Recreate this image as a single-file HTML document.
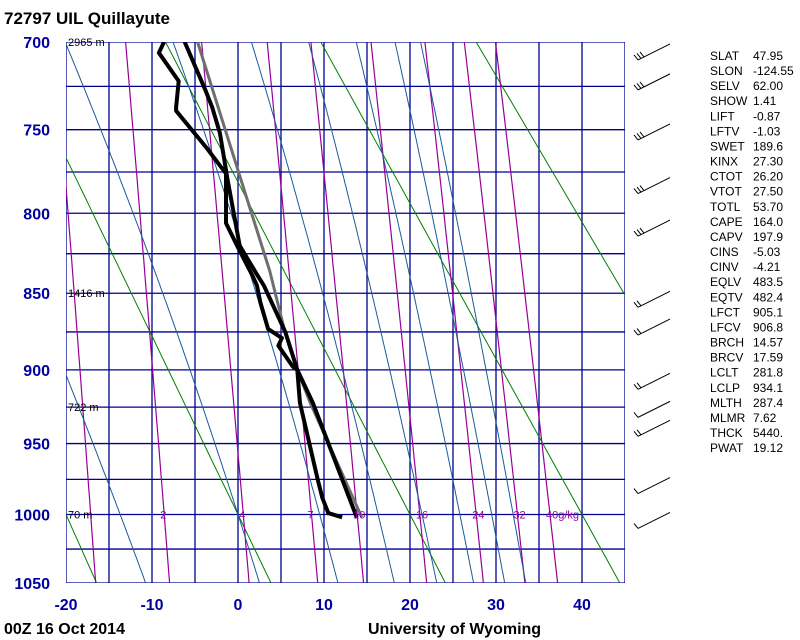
<!DOCTYPE html>
<html><head><meta charset="utf-8"><style>
html,body{margin:0;padding:0;background:#fff;}
svg{display:block;font-family:"Liberation Sans",sans-serif;}
</style></head><body>
<svg id="chart" width="800" height="640" viewBox="0 0 800 640">
<defs><clipPath id="plotclip"><rect x="66" y="42" width="559" height="541"/></clipPath></defs>
<rect width="800" height="640" fill="#fff"/>
<g id="grid" clip-path="url(#plotclip)"></g>
<g id="lines" clip-path="url(#plotclip)"></g>
<g id="sounding" clip-path="url(#plotclip)"></g>
<g id="labels"></g>
<g id="barbs"></g>
<g id="stats"></g>
<text x="4" y="24" font-size="17" font-weight="bold">72797 UIL Quillayute</text>
<text x="4" y="634" font-size="16" font-weight="bold">00Z 16 Oct 2014</text>
<text x="368" y="634" font-size="16" font-weight="bold">University of Wyoming</text>
</svg>
<script>
// ---- data ----
const pressureTicks = [700,750,800,850,900,950,1000,1050];
const isobars = [700,725,750,775,800,825,850,875,900,925,950,975,1000,1025,1050];
const tempTicks = [-20,-10,0,10,20,30,40];
const dryAdiabats = [-20,0,20,40,60]; // degC at 1000 hPa
const moistAdiabats = [-13.7,0,9.5,16.3,21.4,25.8,29.5,32]; // degC at 1000 hPa
const mixRatios = [1,2,4,7,10,16,24,32,40];
const mixLabels = ["","2","4","7","10","16","24","32","40g/kg"];
const tempP = [1002,922,900,875,845,838,820,780,752,737,727,700];
const tempT = [13.8,8.7,6.9,5.5,3.0,2.2,0.2,-1.2,-2.1,-3.0,-3.8,-6.2];
const dewP = [1002,999,988,976,922,900,898,884,879,873,856,845,839,820,806,776,761,739,737,722,706,700];
const dewT = [12.1,10.5,9.8,9.3,7.2,6.9,6.4,4.7,5.1,3.5,2.6,2.2,1.7,-0.1,-1.4,-1.4,-3.6,-7.2,-7.2,-6.9,-9.2,-8.6];
const parcelP = [1002,922,900,876,836,700];
const parcelT = [14.4,8.4,6.9,5.5,3.7,-4.7];
const heightP = [700,850,925,1000];
const heightLabels = ["2965 m","1416 m","722 m","70 m"];
const barbP = [710,727,756,788,814,859,877,913,932,945,985,1010];
const barbFeathers = [3,3,3,3,3,2,2,2,1,2,1,1];
const statNames = ["SLAT","SLON","SELV","SHOW","LIFT","LFTV","SWET","KINX","CTOT","VTOT","TOTL","CAPE","CAPV","CINS","CINV","EQLV","EQTV","LFCT","LFCV","BRCH","BRCV","LCLT","LCLP","MLTH","MLMR","THCK","PWAT"];
const statValues = ["47.95","-124.55","62.00","1.41","-0.87","-1.03","189.6","27.30","26.20","27.50","53.70","164.0","197.9","-5.03","-4.21","483.5","482.4","905.1","906.8","14.57","17.59","281.8","934.1","287.4","7.62","5440.","19.12"];

// ---- axes ----
const NS="http://www.w3.org/2000/svg";
const K=0.286, X0=66, X1=625, Y0=42, Y1=583;
const sA=Math.pow(700,K), sB=Math.pow(1050,K);
function xS(t){return 238+t*8.6;}
function yS(p){return Y0+(Math.pow(p,K)-sA)/(sB-sA)*(Y1-Y0);}
function mk(tag,attrs,parent){const e=document.createElementNS(NS,tag);for(const k in attrs)e.setAttribute(k,attrs[k]);parent.appendChild(e);return e;}
const G=document.getElementById('grid'),L=document.getElementById('lines'),S=document.getElementById('sounding'),LB=document.getElementById('labels'),B=document.getElementById('barbs'),ST=document.getElementById('stats');
function poly(pts,stroke,w,parent,name){const e=mk('polyline',{points:pts.map(q=>q[0].toFixed(1)+','+q[1].toFixed(1)).join(' '),fill:'none',stroke:stroke,'stroke-width':w,'stroke-linejoin':'round'},parent);


return e;}

// grid
for(let t=-20;t<=45;t+=5){const l=mk('line',{x1:xS(t),y1:Y0,x2:xS(t),y2:Y1,stroke:'#000090','stroke-width':1.3},G);

}
isobars.forEach(p=>{const l=mk('line',{x1:X0,y1:yS(p),x2:X1,y2:yS(p),stroke:'#000090','stroke-width':1.3},G);

});

// dry adiabats
dryAdiabats.forEach(c=>{const th=c+273.15;const pts=[];for(let p=690;p<=1060;p+=10){pts.push([xS(th*Math.pow(p/1000,K)-273.15),yS(p)]);}poly(pts,'#008000',1,L,'dry-adiabat');});
// mixing ratio
function esat(tc){return 6.112*Math.exp(17.67*tc/(tc+243.5));}
function tdFromW(w,p){const e=w*p/(622+w);const l=Math.log(e/6.112);return 243.5*l/(17.67-l);}
mixRatios.forEach(w=>{const pts=[];for(let p=690;p<=1060;p+=10)pts.push([xS(tdFromW(w,p)),yS(p)]);poly(pts,'#990099',1.2,L,'mixing-ratio-line');});
// moist adiabats
function dTdp(T,p){const Rd=287.04,cp=1005.7,Lv=2.501e6,eps=0.622;const es=esat(T-273.15);const rs=eps*es/(p-es);
return (1/p)*(Rd*T+Lv*rs)/(cp+Lv*Lv*rs*eps/(Rd*T*T));}
moistAdiabats.forEach(c=>{let up=[],T=c+273.15;for(let p=1000;p>=690;p-=2){up.push([xS(T-273.15),yS(p)]);T-=dTdp(T,p)*2;}
let dn=[];T=c+273.15;for(let p=1000;p<=1060;p+=2){dn.push([xS(T-273.15),yS(p)]);T+=dTdp(T,p)*2;}
poly(dn.reverse().concat(up),'#1a5a9a',1,L,'moist-adiabat');});

// sounding
poly(parcelP.map((p,i)=>[xS(parcelT[i]),yS(p)]),'#6e6e6e',3,S,'parcel-line');
poly(dewP.map((p,i)=>[xS(dewT[i]),yS(p)]),'#000',4,S,'dewpoint-line');
poly(tempP.map((p,i)=>[xS(tempT[i]),yS(p)]),'#000',4,S,'temperature-line');

// labels
pressureTicks.forEach(p=>{const t=mk('text',{x:50,y:yS(p)+6,'text-anchor':'end','font-size':16,'font-weight':'bold',fill:'#0000a0'},LB);t.textContent=p;

});
tempTicks.forEach(v=>{const t=mk('text',{x:xS(v),y:610,'text-anchor':'middle','font-size':16,'font-weight':'bold',fill:'#0000a0'},LB);t.textContent=v;

});
heightP.forEach((p,i)=>{const t=mk('text',{x:68,y:yS(p)+4,'font-size':11,fill:'#000'},LB);t.textContent=heightLabels[i];

});
mixRatios.forEach((w,i)=>{if(!mixLabels[i])return;const t=mk('text',{x:xS(tdFromW(w,1000))-4,y:yS(1000)+4,'font-size':11,fill:'#990099'},LB);t.textContent=mixLabels[i];

});

// barbs
barbP.forEach((p,i)=>{const ty=yS(p),tx=638;const g=mk('g',{stroke:'#000','stroke-width':1,fill:'none'},B);


mk('line',{x1:tx,y1:ty,x2:tx+32,y2:ty-16},g);
for(let k=0;k<barbFeathers[i];k++){const bx=tx+k*3,by=ty-k*1.5;mk('line',{x1:bx,y1:by,x2:bx-4,y2:by-5},g);}
});

// stats
statNames.forEach((n,i)=>{const y=60+i*15.08;const a=mk('text',{x:710,y:y,'font-size':12,fill:'#000'},ST);a.textContent=n;


const b=mk('text',{x:753,y:y,'font-size':12,fill:'#000'},ST);b.textContent=statValues[i];

});
</script>
</body></html>
